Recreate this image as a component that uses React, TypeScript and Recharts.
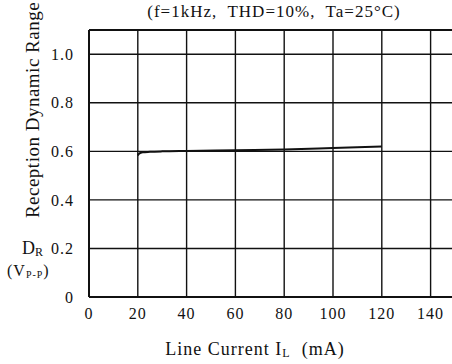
import { LineChart, Line, XAxis, YAxis, CartesianGrid, ReferenceLine } from "recharts";

const current = [20, 20.5, 22, 25, 30, 40, 60, 80, 100, 120];
const dynamicRange = [0.583, 0.59, 0.596, 0.598, 0.6, 0.602, 0.605, 0.608, 0.614, 0.62];
const xTicks = [0, 20, 40, 60, 80, 100, 120, 140];
const yTicks = [0, 0.2, 0.4, 0.6, 0.8, 1.0];

const data = current.map((c, i) => ({ c, dr: dynamicRange[i] }));

const serif = "'Liberation Serif', 'DejaVu Serif', serif";
const tickStyle = { fontFamily: serif, fontSize: 16, fill: "#111", letterSpacing: 1 };

export default function App() {
  return (
    <div
      style={{
        position: "absolute",
        left: 0,
        top: 0,
        width: 452,
        height: 364,
        overflow: "hidden",
        background: "#fff",
        fontFamily: serif,
        color: "#111",
      }}
    >
      <LineChart width={455} height={364} data={data} margin={{ top: 30, right: 0, left: 0, bottom: 37 }}>
        <CartesianGrid stroke="#111" strokeWidth={1.4} horizontalValues={yTicks} verticalValues={xTicks} />
        <ReferenceLine y={1.1} stroke="#111" strokeWidth={2} ifOverflow="visible" />
        <XAxis
          dataKey="c"
          type="number"
          domain={[0, 150]}
          ticks={xTicks}
          tickLine={false}
          axisLine={{ stroke: "#111", strokeWidth: 2 }}
          tick={tickStyle}
          tickMargin={5}
          height={30}
          allowDataOverflow
        />
        <YAxis
          type="number"
          domain={[0, 1.1]}
          ticks={yTicks}
          tickFormatter={(v: number) => (v === 0 ? "0" : v.toFixed(1))}
          tickLine={false}
          axisLine={{ stroke: "#111", strokeWidth: 2 }}
          tick={tickStyle}
          tickMargin={9}
          width={89}
          allowDataOverflow
        />
        <Line
          dataKey="dr"
          type="monotone"
          stroke="#111"
          strokeWidth={2}
          dot={false}
          isAnimationActive={false}
        />
      </LineChart>

      <div
        style={{
          position: "absolute",
          left: 118,
          top: 2,
          width: 312,
          textAlign: "center",
          fontSize: 17,
          letterSpacing: 1,
          whiteSpace: "pre",
        }}
      >
        (f=1kHz,  THD=10%,  Ta=25°C)
      </div>

      <div
        style={{
          position: "absolute",
          left: 33,
          top: 110,
          transform: "translate(-50%, -50%) rotate(-90deg)",
          fontSize: 19,
          letterSpacing: 0.5,
          whiteSpace: "nowrap",
        }}
      >
        Reception Dynamic Range
      </div>

      <div style={{ position: "absolute", left: 22, top: 238, fontSize: 18, whiteSpace: "nowrap" }}>
        D<sub style={{ fontSize: 12, verticalAlign: "-2px" }}>R</sub>
      </div>
      <div style={{ position: "absolute", left: 7, top: 262, fontSize: 16, letterSpacing: 1, whiteSpace: "nowrap" }}>
        (V<sub style={{ fontSize: 10, verticalAlign: "-2px" }}>P-P</sub>)
      </div>

      <div
        style={{
          position: "absolute",
          left: 153,
          top: 339,
          width: 204,
          textAlign: "center",
          fontSize: 18,
          letterSpacing: 1,
          whiteSpace: "pre",
        }}
      >
        Line Current I<sub style={{ fontSize: 12, verticalAlign: "-2px" }}>L</sub>  (mA)
      </div>
    </div>
  );
}
